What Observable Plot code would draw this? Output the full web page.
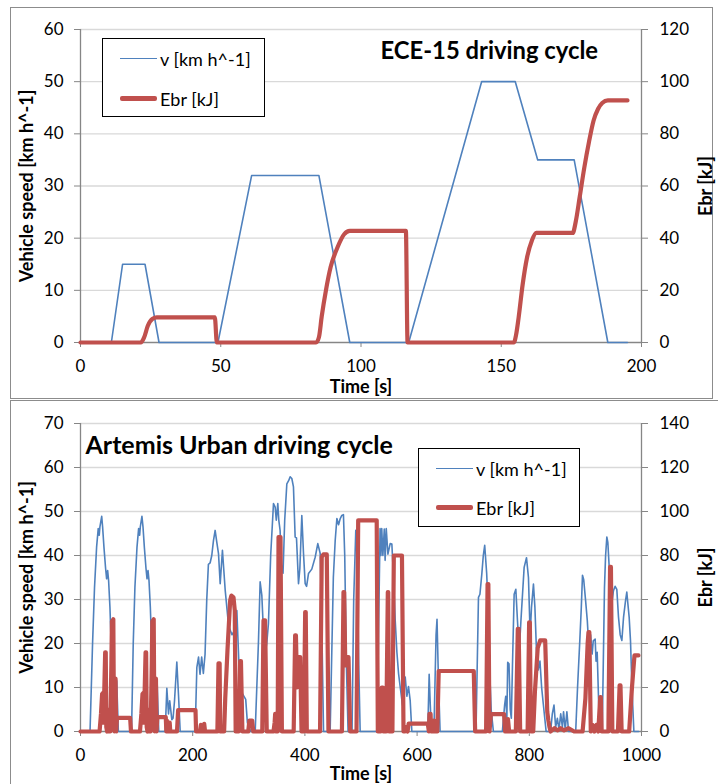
<!DOCTYPE html>
<html><head><meta charset="utf-8">
<script src="https://cdn.jsdelivr.net/npm/d3@7"></script>
<script src="https://cdn.jsdelivr.net/npm/@observablehq/plot@0.6"></script>
<style>
body{margin:0;background:#fff;}
#wrap{position:relative;width:718px;height:784px;overflow:hidden;font-family:Lato,sans-serif;background:#fff;}
.panel{position:absolute;left:0;width:718px;}
.frame{position:absolute;box-sizing:border-box;border:1.5px solid #8c8c8c;}
.legend{position:absolute;box-sizing:border-box;border:1.5px solid #000;background:#fff;font-size:18px;color:#000;}
.legend .sw{position:absolute;}
.legend .lb{position:absolute;transform:translateY(-50%);white-space:nowrap;line-height:1;}
</style></head>
<body>
<div id="wrap">
  <div class="frame" style="left:10px;top:7px;width:703px;height:392px;"></div>
  <div class="frame" style="left:10px;top:400px;width:720px;height:400px;"></div>
  <div class="panel" id="top" style="top:0;height:400px;"></div>
  <div class="panel" id="bottom" style="top:400px;height:384px;"></div>
</div>
<script>
// ---------- data ----------
const legendLabels = ["v [km h^-1]", "Ebr [kJ]"];
const seriesColors = ["#4F81BD", "#C0504D"];

// ECE-15: [time s, speed km/h]
const eceSpeed = [[0,0],[11,0],[15,15],[23,15],[28,0],[49,0],[61,32],[85,32],[96,0],[117,0],[143,50],[155,50],[163,35],[176,35],[188,0],[195,0]];
// ECE-15: [time s, Ebr kJ]
const eceEbr = [[0,0],[21.5,0],[22.7,2],[24,6.4],[25.6,9],[27.2,9.6],[47.9,9.6],[48.6,0],[84,0],[85,2],[86,10],[87.5,20],[89.2,29],[91.6,36.4],[94,41.5],[96,42.8],[116,42.8],[116.6,0],[154.5,0],[155.3,3],[156.2,9.6],[157.6,22],[159.2,32.6],[160.9,39],[162.5,42],[175.5,42],[176.5,46],[178,56],[179.6,67],[181.3,77],[182.9,85],[184.5,89.5],[186,91.8],[188,92.8],[195,92.8]];

// Artemis Urban: [time s, speed km/h]
const artemisSpeed = [[0,0],[17,0],[21.5,20],[25,32.8],[28.7,41.9],[31.6,46.1],[33.4,44.6],[34.6,46.5],[37.8,48.9],[39.4,46.5],[41.8,41.9],[44.8,37],[46.6,34.7],[48.4,36.6],[50.1,34.3],[52.5,28.2],[54.9,19.1],[57.3,8.5],[60,8],[62.5,9],[64.5,11.5],[67.5,0],
[91,0],[94,20],[97,32.8],[100.7,41.9],[103.6,46.1],[105.4,44.6],[106.6,46.5],[109.5,48.9],[111.4,46.5],[113.8,41.9],[116.8,37],[118.6,34.7],[120.4,36.6],[122.1,34.3],[124.5,28.2],[126.9,19.1],[129.3,8.5],[132,8],[134.5,9],[136.5,11.5],[139.5,0],
[151,0],[153.9,9.8],[156.9,4],[159,7],[162.8,2.7],[165,3],[167.6,7],[171.7,15.8],[174.7,8.3],[177.7,0],
[204.4,0],[207.4,14.6],[210.4,16.9],[213,13],[216,16.9],[219,13.2],[222,17.5],[225,29.8],[228,38],[231,38.3],[234,40],[237,43.4],[240,45.7],[243,43],[246,40.4],[249,33.6],[253,41.2],[258,32],[264,24],[270,22],[275,23],[278.7,27.5],[282.8,13.9],[288.6,8.6],[294.5,7.3],[297.5,2],[303.5,0],
[311.4,0],[317.3,20.7],[320.2,34],[323.2,31],[326,23],[329,17.5],[332,20],[335,24.5],[339,40],[344,51.8],[347,51],[349,48],[351.7,51.8],[353.5,48],[355.8,45.7],[358,38],[361,36],[364,48],[367.8,56.3],[371,57],[373.7,57.9],[376.7,57.5],[379.6,55.6],[382.6,44.2],[385,44],[388.6,33.6],[391,37],[394.5,49.1],[397.5,40.5],[400.5,33.6],[403,33],[406.4,35.9],[412.3,36.9],[418.3,39.6],[423,42.7],[427.2,40.5],[430,25],[433.2,0],
[445,0],[450.7,35],[454,43.4],[457,48.4],[460,47],[463,48.4],[465.8,49.1],[468.7,49.3],[471,40],[474,15],[477,0],[484,0],[487,30],[490.7,45.7],[493,40],[496,15],[498.5,0],
[529,0],[531,20],[534,46.1],[535.5,40],[537,46.1],[539,40],[541.5,46],[543,38.9],[545,46.1],[548,40.3],[552,42.7],[555,42.6],[558,35],[561,25.2],[564,18],[567,13.1],[570,10],[574,6],[578.8,12.4],[581.7,8],[584.7,10.2],[587.7,7],[590.6,0],
[619,0],[621.5,13],[623.5,6],[625.5,0],[630,0],[633.8,22],[635.5,25.5],[638,12],[641,0],
[705,0],[709.4,30.5],[712,31.2],[715.3,35.7],[718,40],[720.5,42.3],[724,36],[725.6,31.2],[728.3,17.6],[732,5],[736,0],
[752,0],[756,6],[758,8],[760,3],[761.5,15.7],[763.8,15.4],[766,5],[768,3],[770,15],[773,31.2],[776,32.3],[779,25],[782,18],[785,25],[790.8,37.3],[795,39.5],[798.5,35],[801.5,22],[803.9,28.2],[807.4,33.5],[810,28.2],[813,17.6],[816,14],[819,16],[822,10],[825,6.2],[830,0],
[838,0],[841,4],[844,6],[847,1],[850,3],[853,0.5],[856,4],[859,1],[861,4.5],[864,0.5],[867,4.5],[870,0],
[882.7,0],[886,10],[890,20.6],[892.7,28.2],[894.8,35.5],[897,34.5],[900.4,29.7],[903.4,25.2],[906.7,17.7],[909.3,22],[912,17.6],[914,20.6],[917.4,21],[919,16],[921,18],[924,5],[926,0],
[930,0],[934,32.7],[936,40],[938.2,44.2],[940,43],[943,36],[946,28],[950,32],[953,33],[956,32.3],[959,26],[962,22],[965,20.7],[968,26],[971.5,29.7],[973.8,31.7],[975,30],[978,26],[980.4,20.6],[983,10],[986.4,0],[995,0]];

// Artemis Urban: [time s, Ebr kJ]
const artemisEbr = [[0,0],[34,0],[36.5,8],[38.5,17],[40,17.5],[41,4],[42.5,20],[44,36],[45,36],[46,2],[47.5,0],[49,10],[50,0],[53,0],[55,30],[56,50],[58.5,51],[59.5,10],[60.5,0],[61.5,22],[62.5,24],[63.5,0],[65,6.2],[88.5,6.2],[90,0],
[106,0],[108.5,8],[110.5,17],[112,17.5],[113,4],[114.5,20],[116,36],[117,36],[118,2],[119.5,0],[121,10],[122,0],[125,0],[127,30],[128,50],[130.5,51],[131.5,10],[132.5,0],[133.5,22],[134.5,24],[135.5,0],[137,6.5],[152,6.5],[153,0],[154,5],[155,0],[158,0],[159,4],[160,0],[172,0],[174,9.7],[205,9.7],[206,0],[213,0],[214.5,3],[216,0],[219,0],[220.5,3.5],[222,0],
[244,0],[246,31],[248,31],[249,0],[256,0],[258,15],[262,37],[266.8,59.6],[269,61.8],[272.7,61],[275,55],[276.6,0],[282,0],[284.6,32],[286,32],[288.6,0],[299,0],[301,5],[306,5],[308,0],[324,0],[326.2,50.5],[329,50.5],[332,0],[344,0],[346,4],[347,8],[348,0],[351.5,0],[353,88.4],[356.5,88.4],[359,0],
[380,0],[382.6,43.7],[384,43.7],[386,20],[388,33.8],[391.6,33.8],[394,0],[398,0],[400.5,54.3],[401.5,54.3],[403.4,0],[427,0],[430,79.3],[433,80.5],[439,80.5],[442,0],[466,0],[468.8,63.4],[470,63.4],[472,30],[475,33.8],[477.7,33.8],[480.7,0],[492,0],[495,96],[528,96],[530,0],[535,0],[537,20],[539,20],[540,0],[545,0],[547.8,63.4],[548.5,63.4],[550,0],[556,0],[558.5,80],[573,80],[575.8,0],[578,0],[580,2],[583,0],[585,3.6],[619,3.6],[621,0],[622,8],[624,8],[625,0],[628,0],[630,5],[632,0],[636,0],[638.5,27.5],[701,27.5],[703.5,0],
[723,0],[725.6,67],[727,67],[729,0],[731.6,7.9],[755,7.9],[757,0],[760,0],[762,5.6],[764,0],[776,0],[779.5,46.7],[781,46.7],[783.7,0],[797,0],[799.7,49.6],[801,49.6],[802.7,0],[807,0],[810,18],[815,38],[819.4,41.4],[828.3,41.4],[832,9],[834,5],[836,2],[838,0],[845,1.5],[850,0.5],[856,1.5],[862,0.5],[870,1.5],[880,0],[895,0],[900,15],[904,40],[905.5,45.2],[907,45.2],[909.6,0],[913,3],[916,0],[920,3],[923,0],[926.4,15.6],[927.5,15.6],[929,0],[941,0],[944,74.8],[945.5,74.8],[948,0],[958,0],[961,21],[962.5,21],[964.6,0],[978,0],[983,20],[987.5,34.6],[994.6,34.6]];

const eceXTicks = [0, 50, 100, 150, 200];
const eceYTicks = [0, 10, 20, 30, 40, 50, 60];
const artXTicks = [0, 200, 400, 600, 800, 1000];
const artYTicks = [0, 10, 20, 30, 40, 50, 60, 70];
const titles = ["ECE-15 driving cycle", "Artemis Urban driving cycle"];
const axisTitles = {x: "Time [s]", yLeft: "Vehicle speed [km h^-1]", yRight: "Ebr [kJ]"};

// ---------- chart ----------
const AX = "#868686";
function panel(o) {
  const speed = o.speed.map(([t, v]) => ({t, v}));
  const ebr = o.ebr.map(([t, e]) => ({t, e}));
  const ymax = o.yTicks[o.yTicks.length - 1];
  const font = {fontFamily: "Lato, sans-serif"};
  return Plot.plot({
    width: 718, height: o.height,
    marginLeft: 80, marginRight: 77, marginTop: o.marginTop, marginBottom: o.marginBottom,
    style: {background: "transparent", fontFamily: "Lato, sans-serif", fontSize: "17px", color: "#000"},
    x: {domain: o.xDomain},
    y: {domain: [0, ymax]},
    marks: [
      Plot.gridY(o.yTicks.slice(1), {stroke: "#d9d9d9", strokeOpacity: 1, strokeWidth: 1.3}),
      Plot.ruleX(o.xDomain, {stroke: AX, strokeWidth: 1.3}),
      Plot.ruleY([0], {stroke: AX, strokeWidth: 1.3}),
      Plot.axisX(o.xTicks, {tickSize: 5, tickPadding: 12, stroke: AX, fill: "#000", label: null, fontSize: 17, tickFormat: d => String(d)}),
      Plot.axisY(o.yTicks, {anchor: "left", tickSize: 6, tickPadding: 11, stroke: AX, fill: "#000", label: null, fontSize: 17}),
      Plot.axisY(o.yTicks, {anchor: "right", tickSize: 6, tickPadding: 12, stroke: AX, fill: "#000", label: null, fontSize: 17, tickFormat: d => String(d * 2)}),
      Plot.line(speed, {x: "t", y: "v", stroke: seriesColors[0], strokeWidth: 1.6, strokeLinejoin: "round"}),
      Plot.line(ebr, {x: "t", y: d => d.e / 2, stroke: seriesColors[1], strokeWidth: 4.2, strokeLinejoin: "round", strokeLinecap: "round", curve: o.curve}),
      Plot.text([o.title], {text: d => d, frameAnchor: "top-left", dx: o.titleDx, dy: o.titleDy, textAnchor: "start", lineAnchor: "middle", fontWeight: "bold", fontSize: o.titleSize, fill: "#000", ...font}),
      Plot.text([axisTitles.x], {text: d => d, frameAnchor: "bottom", dy: o.xLabelDy, textAnchor: "middle", lineAnchor: "middle", fontWeight: "bold", fontSize: 18, fill: "#000", ...font}),
      Plot.text([axisTitles.yLeft], {text: d => d, frameAnchor: "left", dx: -53, rotate: -90, textAnchor: "middle", lineAnchor: "middle", fontWeight: "bold", fontSize: 18, fill: "#000", ...font}),
      Plot.text([axisTitles.yRight], {text: d => d, frameAnchor: "right", dx: 65, rotate: -90, textAnchor: "middle", lineAnchor: "middle", fontWeight: "bold", fontSize: 18, fill: "#000", ...font})
    ]
  });
}

function legend(parent, left, top, width, height, y1, y2) {
  const box = document.createElement("div");
  box.className = "legend";
  Object.assign(box.style, {left: left + "px", top: top + "px", width: width + "px", height: height + "px"});
  [[y1, 1.6], [y2, 4.5]].forEach(([y, w], i) => {
    const sw = document.createElement("div");
    sw.className = "sw";
    Object.assign(sw.style, {left: "17px", top: (y - w / 2) + "px", width: "37px", height: w + "px", background: seriesColors[i], borderRadius: i ? "2px" : "0"});
    box.appendChild(sw);
    const lb = document.createElement("div");
    lb.className = "lb";
    lb.textContent = legendLabels[i];
    Object.assign(lb.style, {left: "57px", top: y + "px"});
    box.appendChild(lb);
  });
  parent.appendChild(box);
}

const topEl = document.getElementById("top");
topEl.appendChild(panel({
  speed: eceSpeed, ebr: eceEbr, xDomain: [0, 200], xTicks: eceXTicks, yTicks: eceYTicks,
  height: 400, marginTop: 29, marginBottom: 58, title: titles[0], titleDx: 300, titleDy: 22, titleSize: 23.8,
  xLabelDy: 45, curve: "monotone-x"
}));
legend(topEl, 102, 38, 163, 79, 19.5, 59.5);

const botEl = document.getElementById("bottom");
botEl.appendChild(panel({
  speed: artemisSpeed, ebr: artemisEbr, xDomain: [0, 1000], xTicks: artXTicks, yTicks: artYTicks,
  height: 384, marginTop: 23, marginBottom: 53, title: titles[1], titleDx: 5, titleDy: 22, titleSize: 25,
  xLabelDy: 43, curve: "linear"
}));
legend(botEl, 418, 48, 162, 79, 19.5, 58.5);
</script>
</body></html>
